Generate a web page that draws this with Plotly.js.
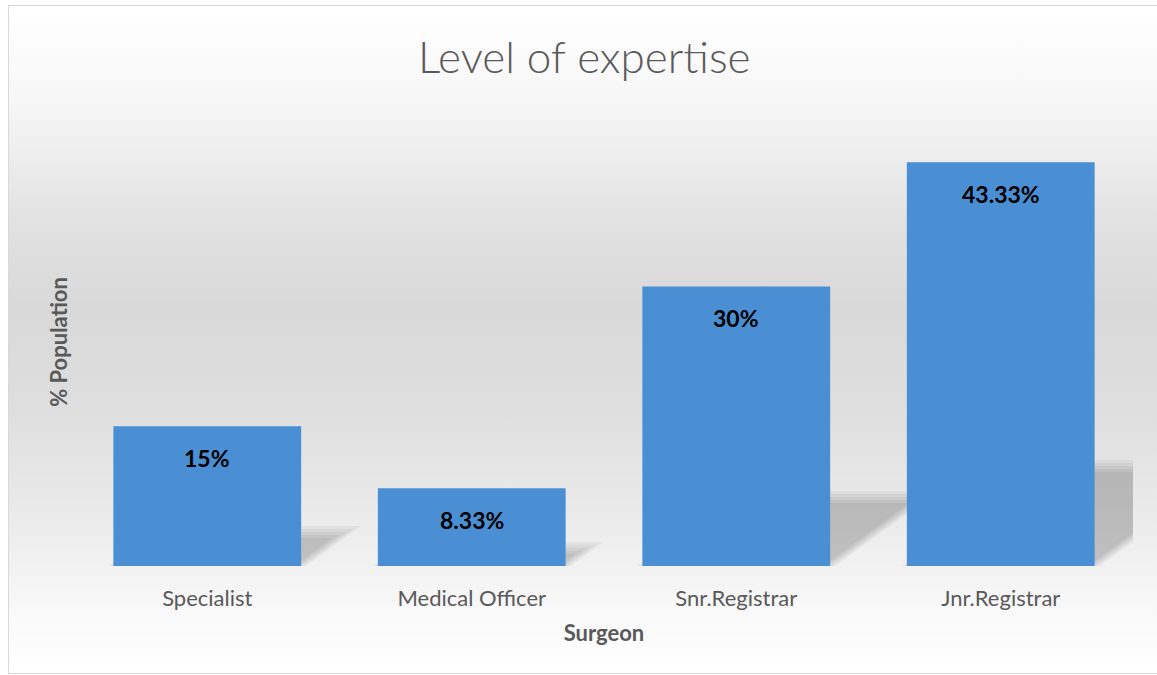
<!DOCTYPE html>
<html>
<head>
<meta charset="utf-8">
<script src="https://cdn.plot.ly/plotly-3.0.1.min.js"></script>
<style>
  html, body { margin: 0; padding: 0; background: #ffffff; }
  #frame {
    position: absolute; left: 8px; top: 5px; width: 1160px; height: 667px;
    border-left: 1px solid #d9d9d9; border-top: 1px solid #d9d9d9; border-bottom: 1px solid #d9d9d9;
    background: linear-gradient(to bottom, #ffffff 0%, #f6f6f6 15%, #e2e2e2 32%, #d9d9d9 45%, #dedede 60%, #ececec 78%, #f8f8f8 90%, #ffffff 100%);
  }
  #chart { position: absolute; left: 0; top: 0; width: 1157px; height: 675px; }
</style>
</head>
<body>
<div id="frame"></div>
<div id="chart"></div>
<script>
const categories = ["Specialist", "Medical Officer", "Snr.Registrar", "Jnr.Registrar"];
const values = [15, 8.33, 30, 43.33];
const valueLabels = ["15%", "8.33%", "30%", "43.33%"];

const FONT = "Lato, 'Open Sans', sans-serif";
const BARGAP = 0.29;
const half = (1 - BARGAP) / 2;

const W = 1157, H = 675;
const M = { l: 75, r: 24, t: 118, b: 109 };
const PX_PER_PCT = 9.32;
const plotH = H - M.t - M.b;
const yMax = plotH / PX_PER_PCT;
const pxPerCat = (W - M.l - M.r) / categories.length;

const trace = {
  type: "bar",
  x: categories,
  y: values,
  marker: { color: "#4a8fd3", line: { width: 0 } },
  hoverinfo: "skip"
};

const annotations = categories.map((c, i) => ({
  x: c, y: values[i], xref: "x", yref: "y",
  text: "<b>" + valueLabels[i] + "</b>",
  showarrow: false, yanchor: "middle", yshift: -32,
  font: { family: FONT, size: 23, color: "#000000" }
}));

// soft perspective shadows (skewed copy of each bar, clipped to the plot area)
const shapes = [];
values.forEach((v, i) => {
  const hPct = v * 0.25;
  const dxCat = (hPct * PX_PER_PCT / 0.73) / pxPerCat;
  [-7, -4, -1, 2, 5].forEach(e => {
    const ex = e / pxPerCat, ey = e / PX_PER_PCT;
    const x0 = i - half - ex, x1 = i + half + ex;
    const h = Math.max(hPct + ey, 0.2);
    const d = dxCat * (h / hPct);
    const path = "M " + x0 + " 0 L " + x1 + " 0 L " + (x1 + d) + " " + h +
                 " L " + (x0 + d) + " " + h + " Z";
    shapes.push({ type: "path", xref: "x2", yref: "y", path: path,
      fillcolor: "#000000", opacity: 0.045, line: { width: 0 }, layer: "below" });
  });
});

const layout = {
  width: W, height: H,
  paper_bgcolor: "rgba(0,0,0,0)",
  plot_bgcolor: "rgba(0,0,0,0)",
  margin: M,
  bargap: BARGAP,
  showlegend: false,
  title: {
    text: "Level of expertise",
    x: 0.505, xanchor: "center", y: 0.915, yanchor: "middle",
    font: { family: FONT, size: 44, color: "#595959", weight: 300 }
  },
  xaxis: {
    type: "category",
    showline: false, showgrid: false, zeroline: false, ticks: "",
    ticklabelstandoff: 17,
    tickfont: { family: FONT, size: 22, color: "#595959" },
    title: { text: "<b>Surgeon</b>", standoff: 15,
      font: { family: FONT, size: 22, color: "#595959" } }
  },
  xaxis2: {
    overlaying: "x", range: [-0.5, values.length - 0.5],
    visible: false, showgrid: false, zeroline: false
  },
  yaxis: {
    range: [0, yMax],
    showline: false, showgrid: false, zeroline: false, showticklabels: false, ticks: "",
    title: { text: "<b>% Population</b>", standoff: 0,
      font: { family: FONT, size: 22, color: "#595959" } }
  },
  shapes: shapes,
  annotations: annotations
};

Plotly.newPlot("chart", [trace], layout, { displayModeBar: false, staticPlot: true });
</script>
</body>
</html>
